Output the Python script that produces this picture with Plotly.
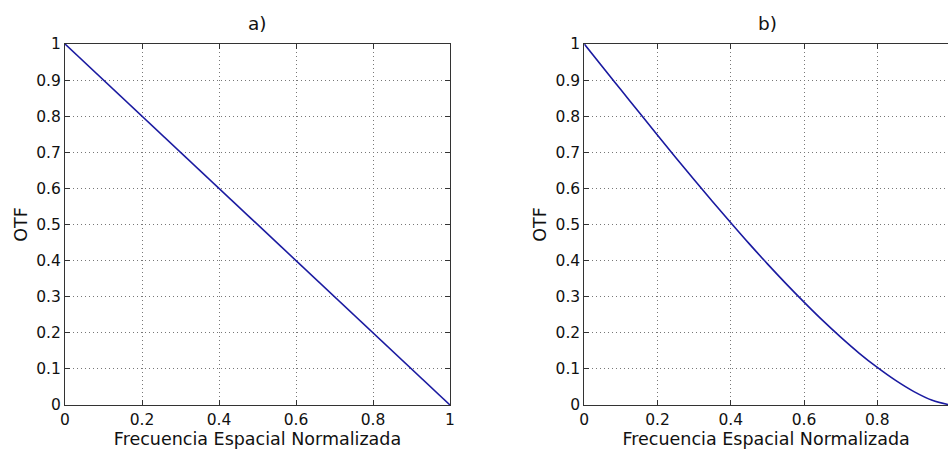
import plotly.graph_objects as go

# Data
freq_a = [0.0, 0.1, 0.2, 0.3, 0.4, 0.5, 0.6, 0.7, 0.8, 0.9, 1.0]
otf_a = [1.0, 0.9, 0.8, 0.7, 0.6, 0.5, 0.4, 0.3, 0.2, 0.1, 0.0]

freq_b = [0.0, 0.05, 0.1, 0.15, 0.2, 0.25, 0.3, 0.35, 0.4, 0.45, 0.5,
          0.55, 0.6, 0.65, 0.7, 0.75, 0.8, 0.85, 0.9, 0.95, 1.0]
otf_b = [1.0, 0.936, 0.873, 0.810, 0.747, 0.685, 0.624, 0.564, 0.505, 0.447, 0.391,
         0.337, 0.285, 0.235, 0.188, 0.144, 0.104, 0.068, 0.037, 0.013, 0.0]

panel_titles = ["a)", "b)"]
x_title = "Frecuencia Espacial Normalizada"
y_title = "OTF"
x_ticks_a = [0, 0.2, 0.4, 0.6, 0.8, 1]
x_ticks_b = [0, 0.2, 0.4, 0.6, 0.8]
y_ticks = [0, 0.1, 0.2, 0.3, 0.4, 0.5, 0.6, 0.7, 0.8, 0.9, 1]

W, H = 948, 451
FONT = "DejaVu Sans, Liberation Sans, Arial, sans-serif"
LINE = "#1a1aa0"
TXT = "#111111"

fig = go.Figure()
fig.add_trace(go.Scatter(x=freq_a, y=otf_a, mode="lines",
                         line=dict(color=LINE, width=1.6), xaxis="x", yaxis="y",
                         showlegend=False))
fig.add_trace(go.Scatter(x=freq_b, y=otf_b, mode="lines", line_shape="spline",
                         line=dict(color=LINE, width=1.6), xaxis="x2", yaxis="y2",
                         showlegend=False))

y_dom = [1 - 405 / H, 1 - 44 / H]
xa_dom = [65 / W, 450 / W]
xb_dom = [584.3 / W, 1.0]

common_axis = dict(
    showgrid=True, gridcolor="#777777", griddash="1px,3px", gridwidth=1,
    zeroline=False, showline=True, linecolor="#333333", linewidth=1,
    ticks="inside", ticklen=5, tickcolor="#333333", automargin=False,
    tickfont=dict(family=FONT, size=15.5, color=TXT),
)

fig.update_layout(
    template="none",
    width=W, height=H,
    margin=dict(l=0, r=0, t=0, b=0, pad=0),
    paper_bgcolor="white", plot_bgcolor="white",
    font=dict(family=FONT, color=TXT),
    xaxis=dict(common_axis, domain=xa_dom, anchor="y", range=[0, 1],
               tickvals=x_ticks_a, ticktext=[f"{v:g}" for v in x_ticks_a], mirror="ticks",
               title=dict(text=x_title, font=dict(family=FONT, size=17.5, color=TXT), standoff=0)),
    yaxis=dict(common_axis, domain=y_dom, anchor="x", range=[0, 1],
               tickvals=y_ticks, ticktext=[f"{v:g}" for v in y_ticks], mirror="ticks",
               title=dict(text=y_title, font=dict(family=FONT, size=17.5, color=TXT), standoff=4)),
    xaxis2=dict(common_axis, domain=xb_dom, anchor="y2", range=[0, (W - 584.3) / 366.25],
                tickvals=x_ticks_b, ticktext=[f"{v:g}" for v in x_ticks_b], mirror="ticks",
                title=dict(text=x_title, font=dict(family=FONT, size=17.5, color=TXT), standoff=0)),
    yaxis2=dict(common_axis, domain=y_dom, anchor="x2", range=[0, 1],
                tickvals=y_ticks, ticktext=[f"{v:g}" for v in y_ticks], mirror=False,
                title=dict(text=y_title, font=dict(family=FONT, size=17.5, color=TXT), standoff=4)),
    annotations=[
        dict(text=panel_titles[0], x=257 / W, y=1 - 23 / H, xref="paper", yref="paper",
             xanchor="center", yanchor="middle",
             showarrow=False, font=dict(family=FONT, size=18.5, color=TXT)),
        dict(text=panel_titles[1], x=767 / W, y=1 - 23 / H, xref="paper", yref="paper",
             xanchor="center", yanchor="middle",
             showarrow=False, font=dict(family=FONT, size=18.5, color=TXT)),
    ],
)

fig.write_html("out.html")
